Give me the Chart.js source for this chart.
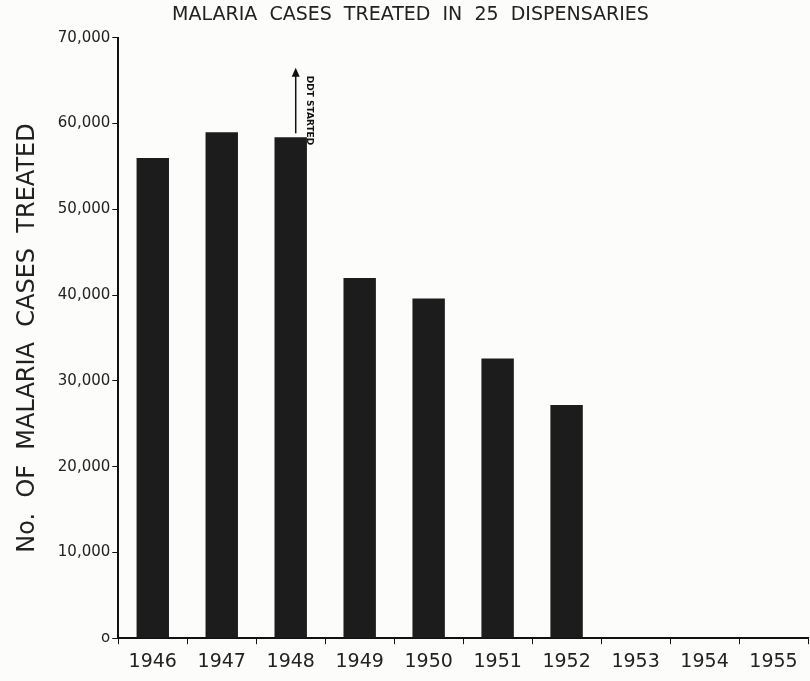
<!DOCTYPE html>
<html>
<head>
<meta charset="utf-8">
<script src="https://cdn.jsdelivr.net/npm/chart.js@4.4.0/dist/chart.umd.min.js"></script>
<style>
  html, body { margin: 0; padding: 0; background: #fcfcfa; }
  #wrap { width: 810px; height: 681px; }
</style>
</head>
<body>
<div id="wrap"><canvas id="barChart"></canvas></div>
<script>
    var years = ['1946', '1947', '1948', '1949', '1950', '1951', '1952', '1953', '1954', '1955'];
    var casesTreated = [56000, 59000, 58400, 42000, 39600, 32600, 27200, null, null, null];
    var yTicks = [0, 10000, 20000, 30000, 40000, 50000, 60000, 70000];
    var ddtYear = '1948';
    var ddtArrowTop = 66500;

    // arrow + "DDT STARTED" note beside the 1948 bar
    var ddtNote = {
        id: 'ddtNote',
        afterDatasetsDraw: function (chart) {
            var ctx = chart.ctx;
            var i = years.indexOf(ddtYear);
            var x = chart.scales.x.getPixelForValue(i) + 5;
            var yBottom = chart.scales.y.getPixelForValue(casesTreated[i]) - 4;
            var yTop = chart.scales.y.getPixelForValue(ddtArrowTop);
            ctx.save();
            ctx.strokeStyle = '#111';
            ctx.fillStyle = '#111';
            ctx.lineWidth = 1.5;
            ctx.beginPath();
            ctx.moveTo(x, yBottom);
            ctx.lineTo(x, yTop + 6);
            ctx.stroke();
            ctx.beginPath();
            ctx.moveTo(x, yTop);
            ctx.lineTo(x - 4, yTop + 9);
            ctx.lineTo(x + 4, yTop + 9);
            ctx.closePath();
            ctx.fill();
            ctx.translate(x + 14, yTop + 8);
            ctx.rotate(Math.PI / 2);
            ctx.font = 'bold 9px "DejaVu Sans"';
            ctx.textAlign = 'left';
            ctx.textBaseline = 'middle';
            ctx.fillText('DDT STARTED', 0, 0);
            ctx.restore();
        }
    };

    var ctx = document.getElementById('barChart').getContext('2d');
    var myChart = new Chart(ctx, {
        type: 'bar',
        data: {
            labels: years,
            datasets: [{
                data: casesTreated,
                backgroundColor: '#1c1c1c',
                borderWidth: 0,
                barPercentage: 0.47,
                categoryPercentage: 1
            }]
        },
        options: {
            responsive: true,
            maintainAspectRatio: false,
            animation: false,
            layout: { padding: { top: 4, right: 2, bottom: 2, left: 13 } },
            plugins: {
                legend: { display: false },
                tooltip: { enabled: false },
                title: {
                    display: true,
                    text: 'MALARIA  CASES  TREATED  IN  25  DISPENSARIES',
                    color: '#222',
                    font: { family: '"DejaVu Sans"', size: 19, weight: 'normal' },
                    padding: { top: 0, bottom: 11 }
                }
            },
            scales: {
                x: {
                    grid: { display: true, drawOnChartArea: false, drawTicks: true, tickLength: 6, color: '#111', offset: true },
                    border: { display: true, color: '#111', width: 2 },
                    ticks: {
                        color: '#222',
                        padding: 6,
                        font: { family: '"DejaVu Sans"', size: 19 }
                    }
                },
                y: {
                    min: 0,
                    max: 70000,
                    afterBuildTicks: function (axis) {
                        axis.ticks = yTicks.map(function (v) { return { value: v }; });
                    },
                    grid: { display: true, drawOnChartArea: false, drawTicks: true, tickLength: 6, color: '#111' },
                    border: { display: true, color: '#111', width: 2 },
                    ticks: {
                        color: '#222',
                        padding: 2,
                        font: { family: '"DejaVu Sans"', size: 15 },
                        callback: function (v) { return v === 0 ? 'o' : v.toLocaleString('en-US'); }
                    },
                    title: {
                        display: true,
                        text: 'No.  OF  MALARIA  CASES  TREATED',
                        color: '#222',
                        font: { family: '"DejaVu Sans"', size: 24 },
                        padding: { top: 0, bottom: 14 }
                    }
                }
            }
        },
        plugins: [ddtNote]
    });
</script>
</body>
</html>
